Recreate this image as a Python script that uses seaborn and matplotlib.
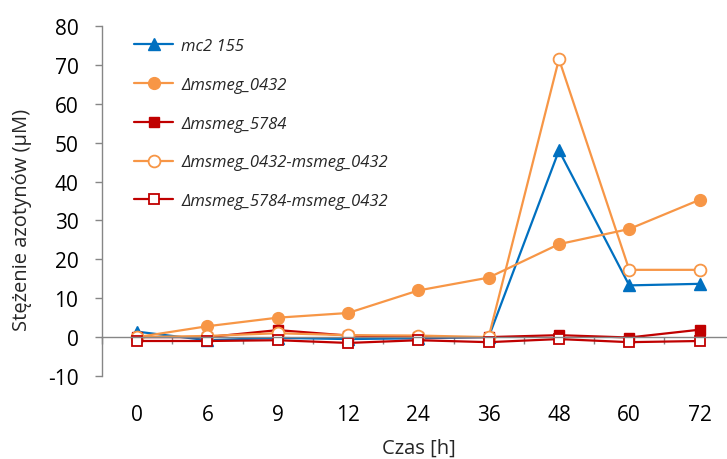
import matplotlib
matplotlib.use("Agg")
import matplotlib.pyplot as plt
import seaborn as sns
import pandas as pd
from matplotlib.ticker import FixedLocator

# Sampling times (categorical axis)
times = ["0", "6", "9", "12", "24", "36", "48", "60", "72"]

# Nitrite concentration [µM] per strain
mc2_155 = [1.4, -0.8, -0.2, -0.5, -0.3, 0.0, 48.0, 13.3, 13.7]
d0432 = [0.0, 2.8, 5.0, 6.2, 12.0, 15.3, 23.9, 27.8, 35.3]
d5784 = [0.0, 0.0, 1.8, 0.4, 0.0, 0.0, 0.5, -0.1, 1.9]
d0432_c = [0.0, 0.3, 1.0, 0.5, 0.4, 0.0, 71.5, 17.3, 17.3]
d5784_c = [-1.0, -1.0, -0.8, -1.5, -0.8, -1.3, -0.5, -1.3, -1.0]

labels = ["mc2 155", "Δmsmeg_0432", "Δmsmeg_5784",
          "Δmsmeg_0432-msmeg_0432", "Δmsmeg_5784-msmeg_0432"]
series = [mc2_155, d0432, d5784, d0432_c, d5784_c]

BLUE = "#0070C0"
ORANGE = "#F79646"
RED = "#C00000"
styles = [
    dict(color=BLUE, marker="^", markersize=8.5, markerfacecolor=BLUE,
         markeredgecolor=BLUE, markeredgewidth=1.0),
    dict(color=ORANGE, marker="o", markersize=8.5, markerfacecolor=ORANGE,
         markeredgecolor=ORANGE, markeredgewidth=1.0),
    dict(color=RED, marker="s", markersize=7.5, markerfacecolor=RED,
         markeredgecolor=RED, markeredgewidth=1.0),
    dict(color=ORANGE, marker="o", markersize=8.5, markerfacecolor="white",
         markeredgecolor=ORANGE, markeredgewidth=1.3),
    dict(color=RED, marker="s", markersize=7.5, markerfacecolor="white",
         markeredgecolor=RED, markeredgewidth=1.3),
]

sns.set_theme(style="white")
plt.rcParams["font.family"] = ["Open Sans", "DejaVu Sans"]

# Figure and axes geometry in pixels
W, H = 727, 460
fig = plt.figure(figsize=(W / 100, H / 100), dpi=100)
ax_l, ax_b, ax_w, ax_h = 102, 83, 9 * 70.3, 350
ax = fig.add_axes([ax_l / W, ax_b / H, ax_w / W, ax_h / H])

pos = list(range(len(times)))
for lab, vals, st in zip(labels, series, styles):
    df = pd.DataFrame({"pos": pos, "val": vals})
    sns.lineplot(data=df, x="pos", y="val", ax=ax, label=lab, linewidth=1.6, **st)

ax.set_xlim(-0.5, len(times) - 0.5)
ax.set_ylim(-10, 80)
ax.set_yticks(range(-10, 81, 10))
ax.set_yticklabels([str(v) for v in range(-10, 81, 10)])

# Horizontal axis crosses at zero; category labels sit below the plot
axis_col = "#868686"
for s in ["top", "right"]:
    ax.spines[s].set_visible(False)
ax.spines["left"].set_color(axis_col)
ax.spines["left"].set_linewidth(1.0)
ax.spines["bottom"].set_position(("data", 0))
ax.spines["bottom"].set_color(axis_col)
ax.spines["bottom"].set_linewidth(1.0)

ax.set_xticks(pos)
ax.set_xticklabels(times)
# tick marks between categories
ax.xaxis.set_minor_locator(FixedLocator([p + 0.5 for p in pos[:-1]] + [-0.5]))
ax.tick_params(axis="x", which="major", length=0, pad=48, labelsize=15, colors="#000000")
ax.tick_params(axis="x", which="minor", bottom=True, length=5, width=1.0,
               color=axis_col, direction="out")
ax.tick_params(axis="y", which="major", left=True, length=5, width=1.0, color=axis_col,
               direction="out", labelsize=15, labelcolor="#000000", pad=12)

ax.set_xlabel("Czas [h]", fontsize=14.5, va="bottom")
ax.xaxis.set_label_coords((419 - ax_l) / ax_w, -(ax_b - 1) / ax_h)
ax.set_ylabel("Stężenie azotynów (µM)", fontsize=14.5, va="center")
ax.yaxis.set_label_coords(-(ax_l - 22) / ax_w, (377 - 220) / ax_h)
ax.grid(False)

leg = ax.legend(loc="upper left", bbox_to_anchor=(0.04, 0.985), frameon=False,
                fontsize=12, handlelength=2.35, labelspacing=1.37, handletextpad=0.5,
                borderaxespad=0)
for t in leg.get_texts():
    t.set_fontstyle("italic")

fig.savefig("out.png", dpi=100, facecolor="white")
